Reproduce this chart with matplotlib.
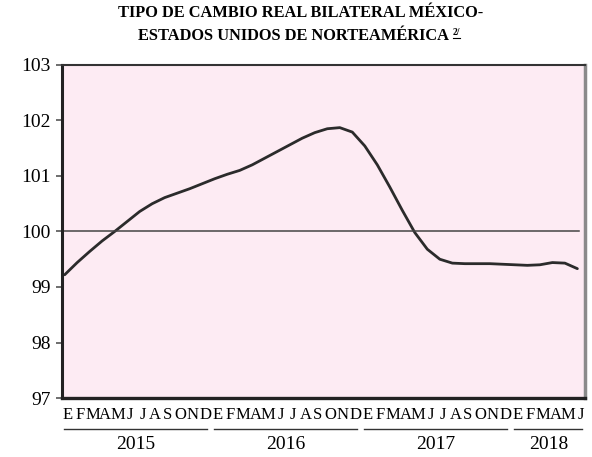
import matplotlib
matplotlib.use("Agg")
import matplotlib.pyplot as plt
from matplotlib.lines import Line2D

# indice mensual, enero 2015 - junio 2018
meses = ['E', 'F', 'M', 'A', 'M', 'J', 'J', 'A', 'S', 'O', 'N', 'D']
anios = ['2015', '2016', '2017', '2018']
meses_por_anio = [12, 12, 12, 6]
tcr = [99.22, 99.44, 99.64, 99.83, 100.00, 100.18, 100.36, 100.50, 100.61, 100.69, 100.77, 100.86,
       100.95, 101.03, 101.10, 101.20, 101.32, 101.44, 101.56, 101.68, 101.78, 101.85, 101.87, 101.79,
       101.54, 101.20, 100.80, 100.38, 99.98, 99.68, 99.50, 99.43, 99.42, 99.42, 99.42, 99.41,
       99.40, 99.39, 99.40, 99.44, 99.43, 99.33]
yticks = [97, 98, 99, 100, 101, 102, 103]

plt.rcParams['font.family'] = ['Liberation Serif', 'DejaVu Serif']

fig = plt.figure(figsize=(5.92, 4.57), dpi=100)
ax = fig.add_axes([0.105, 0.129, 0.883, 0.729])
ax.set_facecolor('#fdebf3')

x = list(range(len(tcr)))
ax.plot(x, tcr, color='#2b2b2b', lw=2.0, solid_capstyle='round', solid_joinstyle='round')
ax.plot([x[0] - 0.1, x[-1] + 0.1], [100, 100], color='#444444', lw=1.1)

ax.set_xlim(-0.2, len(tcr) - 0.4)
ax.set_ylim(97, 103)
ax.set_yticks(yticks)
ax.tick_params(axis='y', labelsize=14, length=4, width=1.2, color='#555555', pad=4)
ax.set_xticks([])

for side, c, w in [('left', '#222222', 2.2), ('bottom', '#222222', 2.4),
                   ('top', '#333333', 1.5), ('right', '#8a8a8a', 2.5)]:
    ax.spines[side].set_color(c)
    ax.spines[side].set_linewidth(w)

# etiquetas de meses y anios debajo del eje
trans = ax.get_xaxis_transform()
inicio = 0
for anio, n in zip(anios, meses_por_anio):
    for k in range(n):
        ax.text(inicio + k + 0.25, -0.05, meses[k], transform=trans, ha='center', va='center',
                fontsize=12)
    fin = inicio + n - 1
    ax.add_line(Line2D([inicio - 0.05, min(fin + 0.35, len(tcr) - 0.4)], [-0.093, -0.093],
                       transform=trans, color='#333333', lw=1.0, clip_on=False))
    ax.text((inicio + fin) / 2 + 0.2, -0.14, anio, transform=trans, ha='center', va='center',
            fontsize=14)
    inicio += n

fig.text(0.508, 0.971, 'TIPO DE CAMBIO REAL BILATERAL MÉXICO-', ha='center', va='center',
         fontsize=11.8, fontweight='bold')
t2 = fig.text(0.496, 0.922, 'ESTADOS UNIDOS DE NORTEAMÉRICA', ha='center', va='center',
              fontsize=11.8, fontweight='bold')
fig.canvas.draw()
bb = t2.get_window_extent().transformed(fig.transFigure.inverted())
nota = fig.text(bb.x1 + 0.006, 0.928, '2/', ha='left', va='center', fontsize=7, fontweight='bold')
fig.canvas.draw()
nb = nota.get_window_extent().transformed(fig.transFigure.inverted())
fig.add_artist(Line2D([nb.x0, nb.x1], [nb.y0 - 0.002, nb.y0 - 0.002], transform=fig.transFigure,
                      color='black', lw=0.8))

fig.savefig('out.png', dpi=100)
